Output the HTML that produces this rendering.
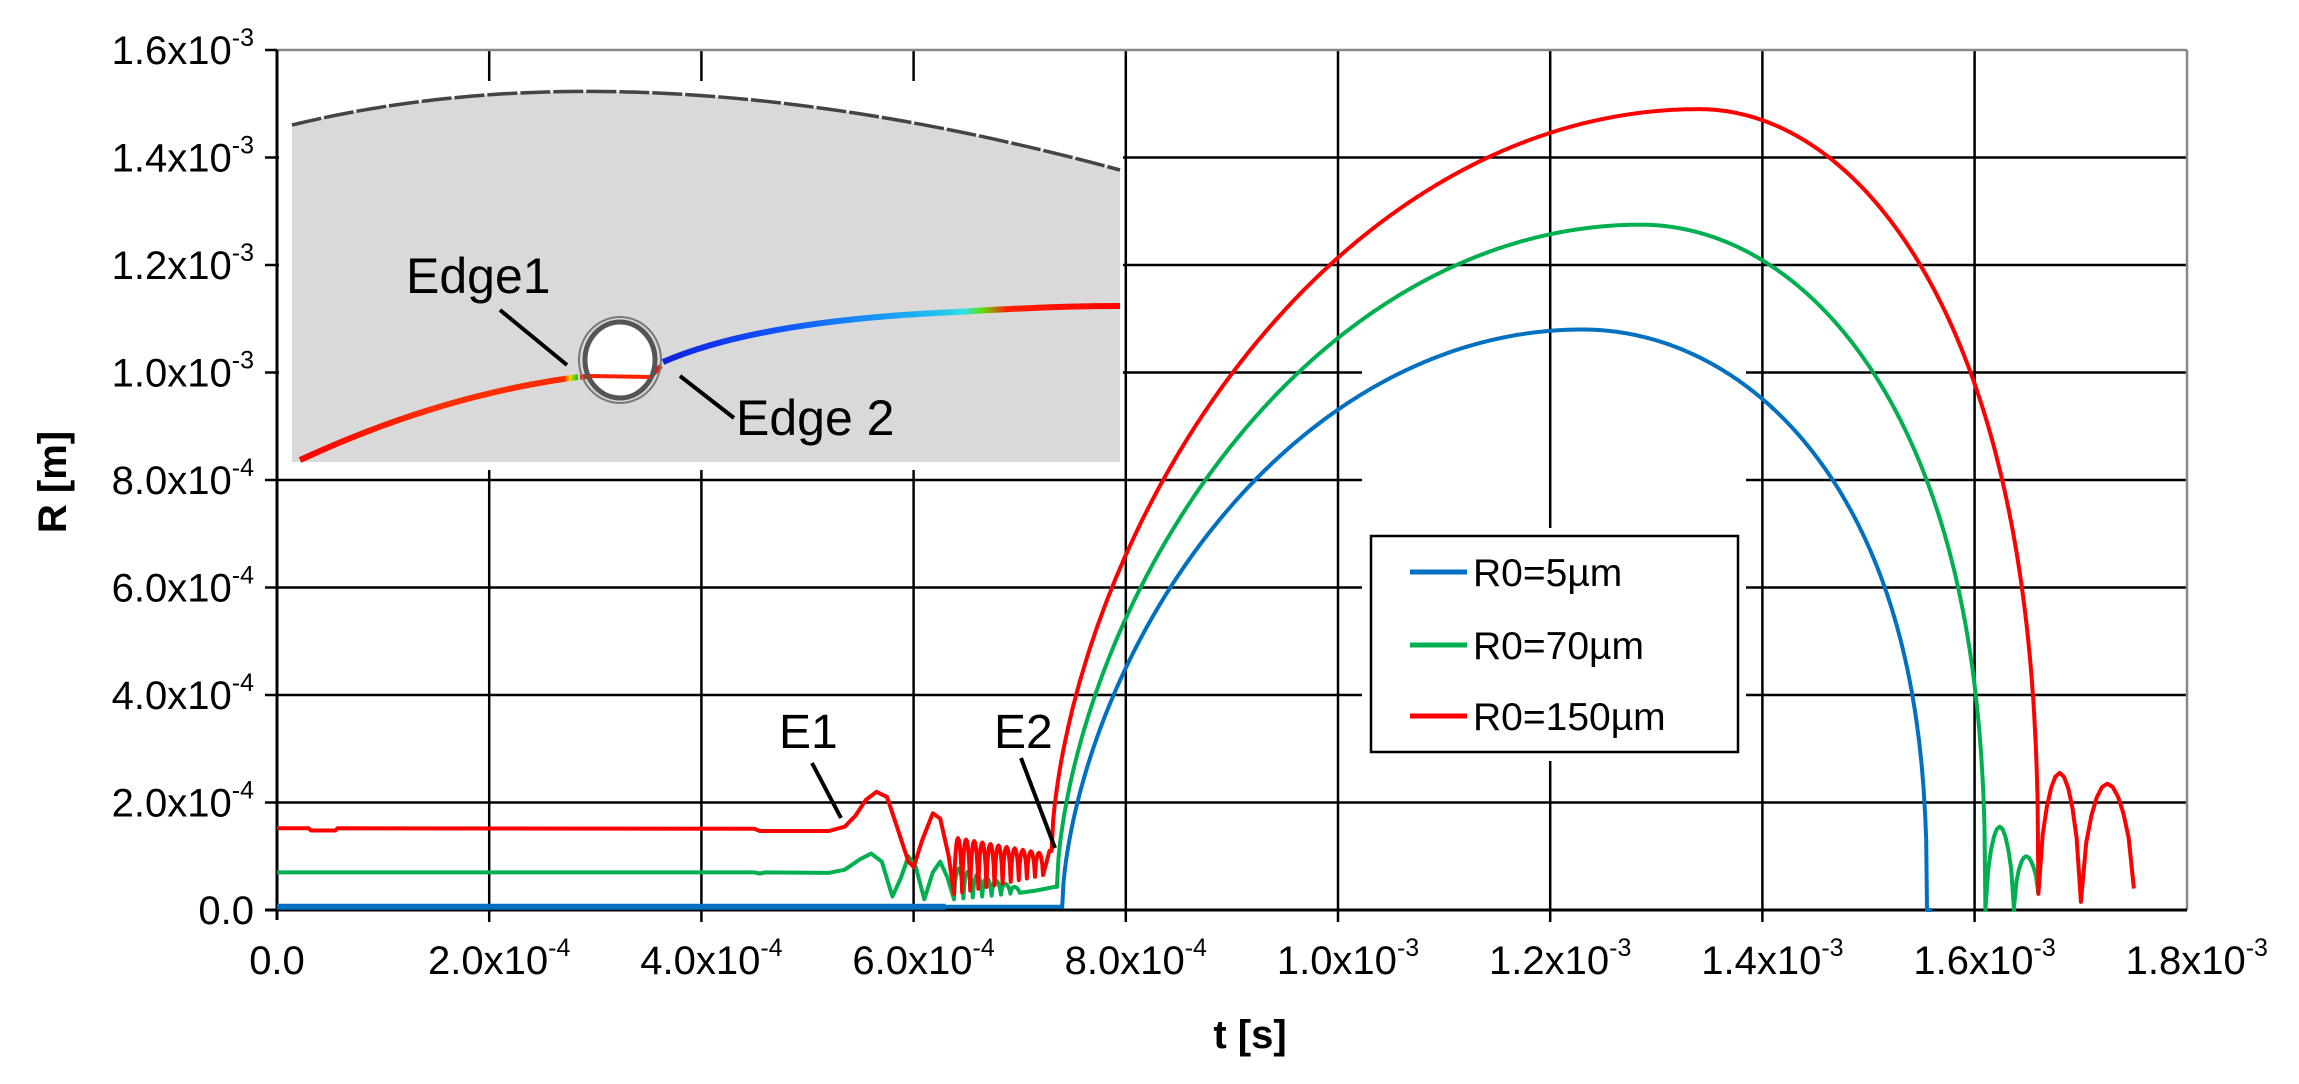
<!DOCTYPE html>
<html><head><meta charset="utf-8"><style>
html,body{margin:0;padding:0;background:#fff;}
svg{display:block;}
text{font-family:"Liberation Sans",sans-serif;fill:#000;}
</style></head><body>
<svg id="s" width="2299" height="1084" viewBox="0 0 2299 1084" xmlns="http://www.w3.org/2000/svg">
<g id="grid" stroke="#000" stroke-width="2.5"></g>
<rect x="279" y="81" width="844" height="389" fill="#fff"/>
<path d="M292,125 Q640,40 1120,170 L1120,462 L292,462 Z" fill="#d9d9d9"/>
<path d="M292,125 Q640,40 1120,170" fill="none" stroke="#444" stroke-width="3.5" stroke-dasharray="30 3"/>
<defs>
<linearGradient id="g1" x1="300" y1="0" x2="578" y2="0" gradientUnits="userSpaceOnUse">
<stop offset="0" stop-color="#ff0000"/><stop offset="0.5" stop-color="#ff3000"/><stop offset="0.95" stop-color="#ff2a00"/><stop offset="0.97" stop-color="#ffd000"/><stop offset="1" stop-color="#00d020"/></linearGradient>
<linearGradient id="g2" x1="663" y1="0" x2="1120" y2="0" gradientUnits="userSpaceOnUse">
<stop offset="0" stop-color="#1020e0"/><stop offset="0.3" stop-color="#1060ff"/><stop offset="0.6" stop-color="#20c0f0"/><stop offset="0.66" stop-color="#30e0e0"/><stop offset="0.7" stop-color="#60e000"/><stop offset="0.75" stop-color="#ff2000"/><stop offset="1" stop-color="#ff0000"/></linearGradient>
</defs>
<path d="M300,460 Q440,395 578,377" fill="none" stroke="url(#g1)" stroke-width="6"/>
<path d="M580,377 L600,376 L612,378 L650,377 L661,366" fill="none" stroke="#ff1000" stroke-width="5"/>
<path d="M663,362 Q760,320 958,312 Q1050,306 1120,306" fill="none" stroke="url(#g2)" stroke-width="6"/>
<ellipse cx="620" cy="360" rx="35" ry="38" fill="#fff" stroke="#555" stroke-width="5"/>
<ellipse cx="620" cy="360" rx="41" ry="43" fill="none" stroke="#777" stroke-width="2"/>
<path d="M590,376 L650,377" stroke="#ff2000" stroke-width="4"/>
<path d="M500,310 L567,365" stroke="#000" stroke-width="4"/>
<path d="M680,376 L734,418" stroke="#000" stroke-width="4"/>
<text x="406" y="293" font-size="50">Edge1</text>
<text x="736" y="435" font-size="50">Edge 2</text>
<line x1="277" y1="50" x2="2187" y2="50" stroke="#888" stroke-width="2.5"/>
<line x1="2187" y1="50" x2="2187" y2="910" stroke="#888" stroke-width="2.5"/>
<line x1="277" y1="50" x2="277" y2="920" stroke="#000" stroke-width="3"/>
<line x1="265" y1="910" x2="2187" y2="910" stroke="#000" stroke-width="3"/>
<g id="ticks" stroke="#000" stroke-width="2.5"></g>
<g id="labels"></g>
<g id="series" fill="none" stroke-width="4" stroke-linejoin="round"></g>
<rect x="1362" y="528" width="384" height="233" fill="#fff"/>
<rect x="1371" y="536" width="367" height="216" fill="#fff" stroke="#000" stroke-width="2.5"/>
<line x1="1410" y1="572" x2="1467" y2="572" stroke="#0070c0" stroke-width="5"/>
<line x1="1410" y1="645" x2="1467" y2="645" stroke="#00b050" stroke-width="5"/>
<line x1="1410" y1="716" x2="1467" y2="716" stroke="#ff0000" stroke-width="5"/>
<text x="1473" y="586" font-size="39">R0=5µm</text>
<text x="1473" y="659" font-size="39">R0=70µm</text>
<text x="1473" y="730" font-size="39">R0=150µm</text>
<text x="779" y="748" font-size="48">E1</text>
<text x="994" y="748" font-size="48">E2</text>
<path d="M812,763 L841,818" stroke="#000" stroke-width="4"/>
<path d="M1021,758 L1055,848" stroke="#000" stroke-width="4"/>
<text x="1250" y="1048" font-size="40" font-weight="bold" text-anchor="middle">t [s]</text>
<text transform="translate(66,482) rotate(-90)" font-size="40" font-weight="bold" text-anchor="middle">R [m]</text>
</svg>
<script>
const NS="http://www.w3.org/2000/svg";
const X=t=>277+t/1.8e-3*1910, Y=r=>910-r/1.6e-3*860;
function el(p,tag,a,txt){const e=document.createElementNS(NS,tag);for(const k in a)e.setAttribute(k,a[k]);if(txt!==undefined)e.textContent=txt;document.getElementById(p).appendChild(e);return e;}
for(let i=1;i<=8;i++){const x=277+i*212.2;
 if(i<=3){el('grid','line',{x1:x,y1:50,x2:x,y2:910});}
 else if(i==6){el('grid','line',{x1:x,y1:50,x2:x,y2:528});el('grid','line',{x1:x,y1:761,x2:x,y2:910});}
 else el('grid','line',{x1:x,y1:50,x2:x,y2:910});
 el('ticks','line',{x1:x,y1:910,x2:x,y2:922});}
for(let j=1;j<=7;j++){const y=910-j*107.5;
 if(j==4||j==5){el('grid','line',{x1:277,y1:y,x2:1362,y2:y});el('grid','line',{x1:1746,y1:y,x2:2187,y2:y});}
 else el('grid','line',{x1:277,y1:y,x2:2187,y2:y});}
for(let j=0;j<=8;j++){const y=910-j*107.5;el('ticks','line',{x1:265,y1:y,x2:277,y2:y});}
const ylab=["0.0","2.0x10|-4","4.0x10|-4","6.0x10|-4","8.0x10|-4","1.0x10|-3","1.2x10|-3","1.4x10|-3","1.6x10|-3"];
ylab.forEach((s,j)=>{const y=910-j*107.5+14;const [a,b]=s.split('|');
 const t=el('labels','text',{x:254,y:y,'font-size':40,'text-anchor':'end'});
 t.appendChild(document.createTextNode(a));
 if(b){const ts=document.createElementNS(NS,'tspan');ts.setAttribute('dy','-18');ts.setAttribute('font-size','25');ts.textContent=b;t.appendChild(ts);}});
const xlab=["0.0","2.0x10|-4","4.0x10|-4","6.0x10|-4","8.0x10|-4","1.0x10|-3","1.2x10|-3","1.4x10|-3","1.6x10|-3","1.8x10|-3"];
xlab.forEach((s,i)=>{const x=277+i*212.2;const [a,b]=s.split('|');
 const t=el('labels','text',{x:x+(b?10:0),y:974,'font-size':40,'text-anchor':'middle'});
 t.appendChild(document.createTextNode(a));
 if(b){const ts=document.createElementNS(NS,'tspan');ts.setAttribute('dy','-18');ts.setAttribute('font-size','25');ts.textContent=b;t.appendChild(ts);}});
function arches(P,t1,t2,n,b1,b2,h1,h2){for(let k=0;k<n;k++)for(let j=0;j<=10;j++){const u=j/10,f=(k+u)/n,t=t1+(k+u)*(t2-t1)/n;const b=b1+(b2-b1)*f,h=h1+(h2-h1)*f;P.push([t,b+(h-b)*Math.pow(Math.sin(Math.PI*u),0.6)]);}}
function grow(P,t0,r0,tp,Rm,tc,rc){const N=400;for(let i=0;i<=N;i++){const u=i/N;const t=t0+(tp-t0)*u;const q=(tp-t)/(tp-t0);P.push([t,r0+(Rm-r0)*Math.pow(Math.max(0,1-q*q),0.6)]);}
 for(let i=1;i<=N;i++){const u=i/N;const t=tp+(tc-tp)*u;const q=(t-tp)/(tc-tp);P.push([t,rc+(Rm-rc)*Math.pow(Math.max(0,1-q*q),0.4)]);}}
function draw(P,c,w){el('series','path',{d:'M'+P.map(p=>X(p[0]).toFixed(1)+','+Y(p[1]).toFixed(1)).join('L'),stroke:c,'stroke-width':w||4});}
let B=[[0,6e-6],[7.4e-4,6e-6]];grow(B,7.4e-4,6e-6,1.23e-3,1.08e-3,1.555e-3,0);B.push([1.555e-3,0],[1.56e-3,0]);
draw(B,'#0070c0',4);
el('series','line',{x1:X(0),y1:Y(6e-6),x2:X(6.3e-4),y2:Y(6e-6),stroke:'#0070c0','stroke-width':6});
let G=[[0,7e-5],[4.5e-4,7e-5],[4.55e-4,6.8e-5],[4.6e-4,7e-5],[5.2e-4,6.9e-5],[5.35e-4,7.5e-5],[5.5e-4,9.5e-5],[5.6e-4,1.05e-4],[5.7e-4,9e-5],[5.8e-4,2.5e-5],[5.88e-4,6e-5],[5.95e-4,1.0e-4],[6.02e-4,8e-5],[6.1e-4,2e-5],[6.18e-4,7e-5],[6.25e-4,9e-5],[6.32e-4,6e-5],[6.38e-4,2e-5]];
arches(G,6.38e-4,7.0e-4,7,2e-5,3.2e-5,8e-5,4e-5);G.push([7.15e-4,3.6e-5],[7.33e-4,4.3e-5]);
grow(G,7.35e-4,4.3e-5,1.285e-3,1.275e-3,1.61e-3,0);
G.push([1.61e-3,0]);arches(G,1.61e-3,1.637e-3,1,0,0,1.55e-4,1.55e-4);arches(G,1.637e-3,1.66e-3,1,5e-6,3e-5,1.0e-4,1.0e-4);
draw(G,'#00b050',4);
let R=[[0,1.52e-4],[3e-5,1.52e-4],[3.2e-5,1.48e-4],[5.5e-5,1.48e-4],[5.7e-5,1.52e-4],[4.5e-4,1.51e-4],[4.55e-4,1.47e-4],[5.2e-4,1.47e-4],[5.35e-4,1.55e-4],[5.45e-4,1.75e-4],[5.55e-4,2.05e-4],[5.65e-4,2.2e-4],[5.75e-4,2.1e-4],[5.85e-4,1.5e-4],[5.95e-4,9e-5],[6.0e-4,8e-5],[6.08e-4,1.3e-4],[6.18e-4,1.8e-4],[6.25e-4,1.7e-4],[6.33e-4,1.0e-4],[6.38e-4,3e-5]];
arches(R,6.38e-4,7.22e-4,11,3e-5,6.5e-5,1.35e-4,1.05e-4);R.push([7.28e-4,1.1e-4]);
grow(R,7.3e-4,1.1e-4,1.34e-3,1.49e-3,1.66e-3,3e-5);
arches(R,1.66e-3,1.70e-3,1,3e-5,1.5e-5,2.55e-4,2.55e-4);arches(R,1.70e-3,1.75e-3,1,1.5e-5,4e-5,2.35e-4,2.35e-4);
draw(R,'#ff0000',4);
</script>
</body></html>
